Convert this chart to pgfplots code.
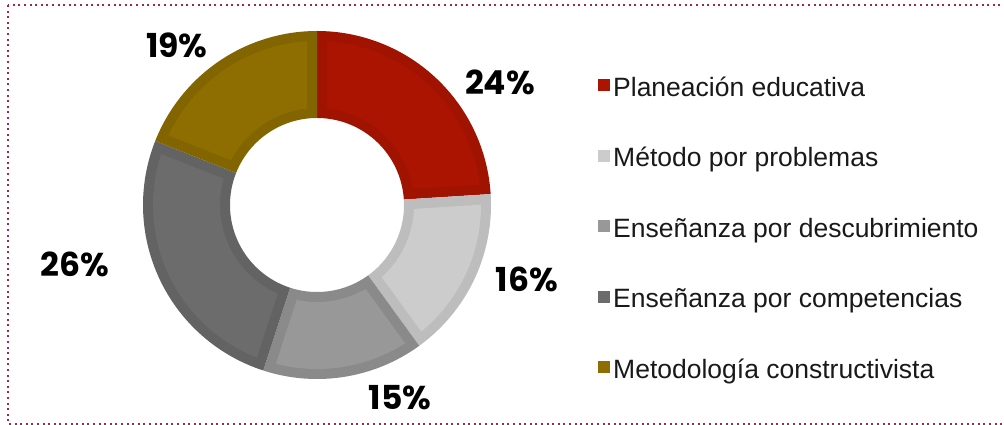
\documentclass[border=0pt]{standalone}
\usepackage{pgfplots}
\pgfplotsset{compat=1.18}
\usepackage{fontspec}
\setmainfont{Liberation Sans}
\newfontfamily\lblfont{Poppins}

% data (percent)
\def\vP{24}\def\vM{16}\def\vD{15}\def\vC{26}\def\vK{19}

\definecolor{cP}{HTML}{AA1400}\definecolor{cPb}{HTML}{A01300}
\definecolor{cM}{HTML}{CCCCCC}\definecolor{cMb}{HTML}{BDBDBD}
\definecolor{cD}{HTML}{989898}\definecolor{cDb}{HTML}{8A8A8A}
\definecolor{cC}{HTML}{6C6C6C}\definecolor{cCb}{HTML}{636363}
\definecolor{cK}{HTML}{8E6E00}\definecolor{cKb}{HTML}{836500}
\definecolor{frm}{HTML}{A8244C}

\def\cx{317}\def\cy{220}\def\Rout{174}\def\Rin{87}
\newcommand{\sector}[4]{%
  \pgfmathsetmacro\Ro{\Rout-#3}%
  \pgfmathsetmacro\Ri{\Rin+#3}%
  \pgfmathsetmacro\aA{#1-asin(#3/\Ro)}%
  \pgfmathsetmacro\aB{#2+asin(#3/\Ro)}%
  \pgfmathsetmacro\bA{#1-asin(#3/\Ri)}%
  \pgfmathsetmacro\bB{#2+asin(#3/\Ri)}%
  \edef\doplot{\noexpand\addplot[forget plot, draw=none, fill=#4, variable=\noexpand\t, domain=0:3, samples=301]
   ({\cx + (\noexpand\t<1 ? (\Ro)*cos((\aA)+((\aB)-(\aA))*\noexpand\t) : (\noexpand\t<2 ? (\Ro)*cos(\aB)+((\Ri)*cos(\bB)-(\Ro)*cos(\aB))*(\noexpand\t-1) : (\Ri)*cos((\bB)+((\bA)-(\bB))*(\noexpand\t-2))))},
    {\cy + (\noexpand\t<1 ? (\Ro)*sin((\aA)+((\aB)-(\aA))*\noexpand\t) : (\noexpand\t<2 ? (\Ro)*sin(\aB)+((\Ri)*sin(\bB)-(\Ro)*sin(\aB))*(\noexpand\t-1) : (\Ri)*sin((\bB)+((\bA)-(\bB))*(\noexpand\t-2))))});}%
  \doplot
}

\begin{document}
\begin{tikzpicture}
\pgfmathsetmacro\tA{90}
\pgfmathsetmacro\tB{\tA-3.6*\vP}
\pgfmathsetmacro\tC{\tB-3.6*\vM}
\pgfmathsetmacro\tD{\tC-3.6*\vD}
\pgfmathsetmacro\tE{\tD-3.6*\vC}
\pgfmathsetmacro\tF{\tE-3.6*\vK}
\begin{axis}[
  scale only axis, width=1004pt, height=425pt,
  xmin=0, xmax=1004, ymin=0, ymax=425,
  hide axis, clip=false,
  legend cell align=left,
  legend image code/.code={\path[#1, draw=none] (0pt,5pt) rectangle (12pt,17pt);},
  legend style={at={(axis cs:598,348)}, anchor=north west, draw=none, fill=none,
    inner sep=0pt, row sep=45.5pt, column sep=0pt,
    font=\fontsize{26.5}{26.5}\selectfont, text=black!90,
    nodes={inner xsep=3pt, inner ysep=0pt, text height=19pt, text depth=6pt, anchor=base west}},
]
\sector{\tA}{\tB}{0}{cPb}\sector{\tA}{\tB}{10}{cP}
\sector{\tB}{\tC}{0}{cMb}\sector{\tB}{\tC}{10}{cM}
\sector{\tC}{\tD}{0}{cDb}\sector{\tC}{\tD}{10}{cD}
\sector{\tD}{\tE}{0}{cCb}\sector{\tD}{\tE}{10}{cC}
\sector{\tE}{\tF}{0}{cKb}\sector{\tE}{\tF}{10}{cK}

\addlegendimage{fill=cP}\addlegendentry{Planeación educativa}
\addlegendimage{fill=cM}\addlegendentry{Método por problemas}
\addlegendimage{fill=cD}\addlegendentry{Enseñanza por descubrimiento}
\addlegendimage{fill=cC}\addlegendentry{Enseñanza por competencias}
\addlegendimage{fill=cK}\addlegendentry{Metodología constructivista}

\begin{scope}[every node/.style={font=\lblfont\bfseries\fontsize{33}{33}\selectfont, text=black, inner sep=0pt}]
\node at (axis cs:500,342.5) {\vP\%};
\node at (axis cs:527,146) {\vM\%};
\node at (axis cs:400,27) {\vD\%};
\node at (axis cs:75,161) {\vC\%};
\node at (axis cs:177,380) {\vK\%};
\end{scope}
\draw[frm, line width=2pt, dash pattern=on 2pt off 3.6pt] (axis cs:8,420) rectangle (axis cs:1012,1);
\end{axis}
\pgfresetboundingbox
\useasboundingbox (current axis.south west) rectangle (current axis.north east);
\end{tikzpicture}
\end{document}
